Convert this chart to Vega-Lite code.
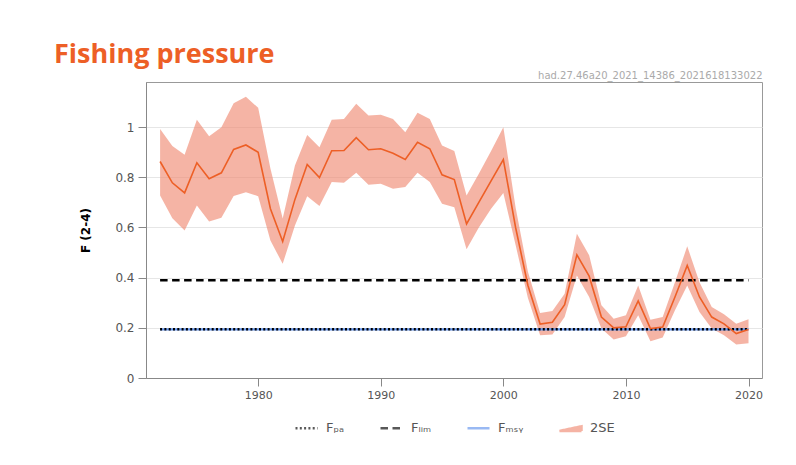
{
  "$schema": "https://vega.github.io/schema/vega-lite/v6.json",
  "width": 616,
  "height": 296,
  "autosize": {"type": "none"},
  "padding": {"left": 146, "top": 82, "right": 34, "bottom": 87},
  "background": "white",
  "title": {"text": "Fishing pressure", "anchor": "start", "frame": "group", "dx": -92, "font": "Open Sans", "fontSize": 27, "fontWeight": "bold", "color": "#ED5F26", "baseline": "alphabetic", "offset": -20},
  "config": {"view": {"stroke": "#999", "strokeWidth": 1}, "font": "DejaVu Sans"},
  "data": {"values": [
    {"year": 1972, "F": 0.863, "low": 0.728, "high": 0.993},
    {"year": 1973, "F": 0.778, "low": 0.637, "high": 0.925},
    {"year": 1974, "F": 0.738, "low": 0.588, "high": 0.890},
    {"year": 1975, "F": 0.858, "low": 0.688, "high": 1.030},
    {"year": 1976, "F": 0.794, "low": 0.624, "high": 0.964},
    {"year": 1977, "F": 0.818, "low": 0.639, "high": 1.000},
    {"year": 1978, "F": 0.911, "low": 0.726, "high": 1.095},
    {"year": 1979, "F": 0.929, "low": 0.740, "high": 1.121},
    {"year": 1980, "F": 0.900, "low": 0.725, "high": 1.077},
    {"year": 1981, "F": 0.675, "low": 0.548, "high": 0.835},
    {"year": 1982, "F": 0.544, "low": 0.455, "high": 0.636},
    {"year": 1983, "F": 0.712, "low": 0.608, "high": 0.847},
    {"year": 1984, "F": 0.851, "low": 0.725, "high": 0.969},
    {"year": 1985, "F": 0.799, "low": 0.686, "high": 0.920},
    {"year": 1986, "F": 0.906, "low": 0.781, "high": 1.030},
    {"year": 1987, "F": 0.907, "low": 0.778, "high": 1.033},
    {"year": 1988, "F": 0.958, "low": 0.818, "high": 1.093},
    {"year": 1989, "F": 0.910, "low": 0.770, "high": 1.046},
    {"year": 1990, "F": 0.914, "low": 0.774, "high": 1.049},
    {"year": 1991, "F": 0.896, "low": 0.754, "high": 1.033},
    {"year": 1992, "F": 0.871, "low": 0.761, "high": 0.980},
    {"year": 1993, "F": 0.940, "low": 0.818, "high": 1.057},
    {"year": 1994, "F": 0.914, "low": 0.781, "high": 1.033},
    {"year": 1995, "F": 0.810, "low": 0.695, "high": 0.927},
    {"year": 1996, "F": 0.791, "low": 0.681, "high": 0.905},
    {"year": 1997, "F": 0.614, "low": 0.513, "high": 0.728},
    {"year": 1998, "F": 0.700, "low": 0.600, "high": 0.814},
    {"year": 1999, "F": 0.786, "low": 0.675, "high": 0.905},
    {"year": 2000, "F": 0.871, "low": 0.738, "high": 1.000},
    {"year": 2001, "F": 0.600, "low": 0.530, "high": 0.680},
    {"year": 2002, "F": 0.370, "low": 0.320, "high": 0.425},
    {"year": 2003, "F": 0.215, "low": 0.170, "high": 0.259},
    {"year": 2004, "F": 0.222, "low": 0.173, "high": 0.267},
    {"year": 2005, "F": 0.292, "low": 0.243, "high": 0.336},
    {"year": 2006, "F": 0.491, "low": 0.409, "high": 0.575},
    {"year": 2007, "F": 0.406, "low": 0.323, "high": 0.489},
    {"year": 2008, "F": 0.243, "low": 0.197, "high": 0.290},
    {"year": 2009, "F": 0.200, "low": 0.153, "high": 0.236},
    {"year": 2010, "F": 0.204, "low": 0.166, "high": 0.250},
    {"year": 2011, "F": 0.307, "low": 0.250, "high": 0.369},
    {"year": 2012, "F": 0.197, "low": 0.147, "high": 0.232},
    {"year": 2013, "F": 0.203, "low": 0.161, "high": 0.243},
    {"year": 2014, "F": 0.323, "low": 0.270, "high": 0.382},
    {"year": 2015, "F": 0.449, "low": 0.369, "high": 0.525},
    {"year": 2016, "F": 0.323, "low": 0.263, "high": 0.382},
    {"year": 2017, "F": 0.243, "low": 0.197, "high": 0.283},
    {"year": 2018, "F": 0.216, "low": 0.170, "high": 0.254},
    {"year": 2019, "F": 0.177, "low": 0.134, "high": 0.216},
    {"year": 2020, "F": 0.193, "low": 0.139, "high": 0.234}
  ]},
  "resolve": {"axis": {"x": "independent"}},
  "layer": [
    {
      "mark": {"type": "area", "opacity": 0.65},
      "encoding": {
        "x": {"field": "year", "type": "quantitative", "scale": {"domain": [1970.85, 2021.1], "nice": false, "zero": false},
          "axis": {"values": [1980, 1990, 2000, 2010, 2020], "format": "d", "title": null, "grid": false, "tickSize": 8, "tickColor": "#888", "domainColor": "#888", "labelFontSize": 11, "labelColor": "#555", "labelPadding": 3}},
        "y": {"field": "low", "type": "quantitative", "scale": {"domain": [0, 1.18], "nice": false, "zero": false}, "title": "F (2-4)",
          "axis": {"values": [0, 0.2, 0.4, 0.6, 0.8, 1], "format": "~g", "grid": true, "gridColor": "#e6e6e6", "tickSize": 8, "tickColor": "#888", "domainColor": "#888", "labelFontSize": 12, "labelColor": "#555", "labelPadding": 4, "titleFontSize": 12, "titleFontWeight": "bold", "titleColor": "#000", "titlePadding": 22}},
        "y2": {"field": "high"},
        "color": {"datum": "2SE",
          "scale": {"domain": ["Fₚₐ", "Fₗᵢₘ", "Fₘₛᵧ", "2SE"], "range": ["#000000", "#000000", "#6495ED", "#F08C74"]},
          "legend": {"orient": "none", "legendX": 148, "legendY": 333, "direction": "horizontal", "title": null, "symbolType": "stroke", "symbolSize": 484, "symbolStrokeWidth": 2.5, "labelFontSize": 13, "labelColor": "#555", "columnPadding": 30, "labelOffset": 7}}
      }
    },
    {
      "mark": {"type": "point", "size": 0, "opacity": 0},
      "encoding": {
        "x": {"field": "year", "type": "quantitative", "scale": {"domain": [1970.85, 2021.1], "nice": false, "zero": false}, "axis": null},
        "y": {"field": "F", "type": "quantitative", "scale": {"domain": [0, 1.18], "nice": false, "zero": false}, "title": "F (2-4)"},
        "shape": {"datum": "2SE", "scale": {"domain": ["Fₚₐ", "Fₗᵢₘ", "Fₘₛᵧ", "2SE"], "range": ["stroke", "stroke", "stroke", "M-1,0.3L1,0.3L1,-0.12Z"]}}
      }
    },
    {
      "mark": {"type": "line", "strokeWidth": 2.2},
      "encoding": {
        "x": {"field": "year", "type": "quantitative", "scale": {"domain": [1970.85, 2021.1], "nice": false, "zero": false},
          "axis": {"orient": "top", "title": "had.27.46a20_2021_14386_2021618133022", "labels": false, "ticks": false, "domain": false, "grid": false, "titleAnchor": "end", "titleFontSize": 10, "titleFontWeight": "normal", "titleColor": "#aaa", "titlePadding": 2}},
        "y": {"datum": 0.194, "type": "quantitative", "scale": {"domain": [0, 1.18], "nice": false, "zero": false}, "title": "F (2-4)"},
        "color": {"datum": "Fₘₛᵧ"},
        "strokeDash": {"datum": "Fₘₛᵧ", "scale": {"domain": ["Fₚₐ", "Fₗᵢₘ", "Fₘₛᵧ", "2SE"], "range": [[2, 2.3], [7.5, 4.5], [1, 0], [1, 0]]}}
      }
    },
    {
      "mark": {"type": "line", "strokeWidth": 2.5},
      "encoding": {
        "x": {"field": "year", "type": "quantitative", "scale": {"domain": [1970.85, 2021.1], "nice": false, "zero": false}, "axis": null},
        "y": {"datum": 0.194, "type": "quantitative", "scale": {"domain": [0, 1.18], "nice": false, "zero": false}, "title": "F (2-4)"},
        "color": {"datum": "Fₚₐ"},
        "strokeDash": {"datum": "Fₚₐ"}
      }
    },
    {
      "mark": {"type": "line", "strokeWidth": 2.5},
      "encoding": {
        "x": {"field": "year", "type": "quantitative", "scale": {"domain": [1970.85, 2021.1], "nice": false, "zero": false}, "axis": null},
        "y": {"datum": 0.39, "type": "quantitative", "scale": {"domain": [0, 1.18], "nice": false, "zero": false}, "title": "F (2-4)"},
        "color": {"datum": "Fₗᵢₘ"},
        "strokeDash": {"datum": "Fₗᵢₘ"}
      }
    },
    {
      "mark": {"type": "line", "strokeWidth": 1.6, "color": "#ED5F26"},
      "encoding": {
        "x": {"field": "year", "type": "quantitative", "scale": {"domain": [1970.85, 2021.1], "nice": false, "zero": false}, "axis": null},
        "y": {"field": "F", "type": "quantitative", "scale": {"domain": [0, 1.18], "nice": false, "zero": false}, "title": "F (2-4)"}
      }
    }
  ]
}
